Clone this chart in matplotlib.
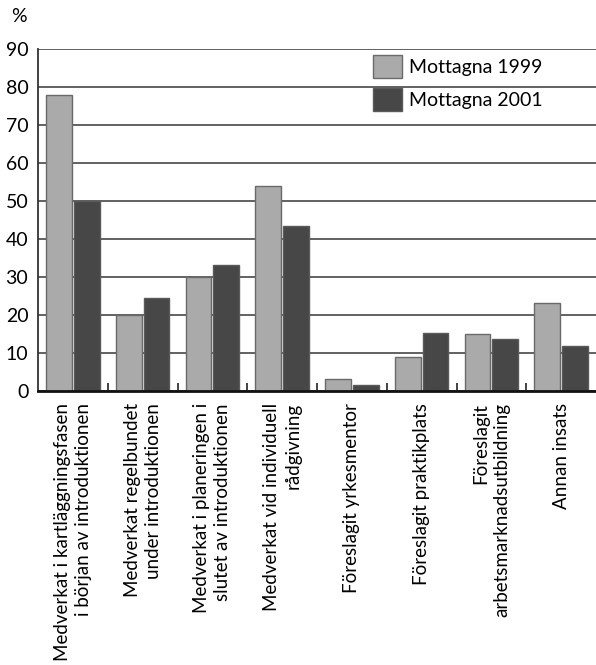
import numpy as np
import matplotlib.pyplot as plt

plt.rcParams['font.family'] = ['Lato', 'DejaVu Sans']

categories = [
    "Medverkat i kartläggningsfasen\ni början av introduktionen",
    "Medverkat regelbundet\nunder introduktionen",
    "Medverkat i planeringen i\nslutet av introduktionen",
    "Medverkat vid individuell\nrådgivning",
    "Föreslagit yrkesmentor",
    "Föreslagit praktikplats",
    "Föreslagit\narbetsmarknadsutbildning",
    "Annan insats",
]
mottagna_1999 = [78, 20, 30, 54, 3.1, 9, 15, 23]
mottagna_2001 = [50, 24.3, 33.2, 43.3, 1.4, 15.1, 13.7, 11.8]
yticks = [0, 10, 20, 30, 40, 50, 60, 70, 80, 90]

fig = plt.figure(figsize=(5.96, 6.65), dpi=100)
ax = fig.add_axes([38 / 596, 274.3 / 665, 558 / 596, 341.7 / 665])

x = np.arange(len(categories))
w = 0.37
ax.bar(x - 0.2, mottagna_1999, w, color='#aaaaaa', edgecolor='#6a6a6a',
       linewidth=1, label='Mottagna 1999', zorder=3)
ax.bar(x + 0.2, mottagna_2001, w, color='#474747', edgecolor='#5a5a5a',
       linewidth=1, label='Mottagna 2001', zorder=3)

ax.set_xlim(-0.5, len(categories) - 0.5)
ax.set_ylim(0, 90)
ax.set_yticks(yticks)
ax.tick_params(axis='y', length=0, pad=7, labelsize=14)
ax.yaxis.grid(True, color='#555555', linewidth=1.3, zorder=0)

ax.set_xticks(x)
ax.set_xticklabels(categories, rotation=90, ha='center', va='top',
                   multialignment='right', fontsize=13.5, linespacing=1.3)
ax.tick_params(axis='x', which='major', length=0, pad=9)
ax.set_xticks(x[:-1] + 0.5, minor=True)
ax.tick_params(axis='x', which='minor', direction='in', length=6,
               width=1.2, color='#222222')

for s in ['top', 'right']:
    ax.spines[s].set_visible(False)
ax.spines['left'].set_color('#333333')
ax.spines['left'].set_linewidth(1.3)
ax.spines['bottom'].set_color('#111111')
ax.spines['bottom'].set_linewidth(2)
ax.spines['bottom'].set_zorder(4)

ax.legend(loc='upper left', bbox_to_anchor=(0.601, 0.982), frameon=False,
          fontsize=14, handlelength=1.45, handleheight=1.4,
          handletextpad=0.4, labelspacing=0.55, borderpad=0,
          borderaxespad=0)

fig.text(19 / 596, 1 - 17 / 665, '%', fontsize=14, ha='center', va='center')

fig.savefig('out.png', dpi=100)
